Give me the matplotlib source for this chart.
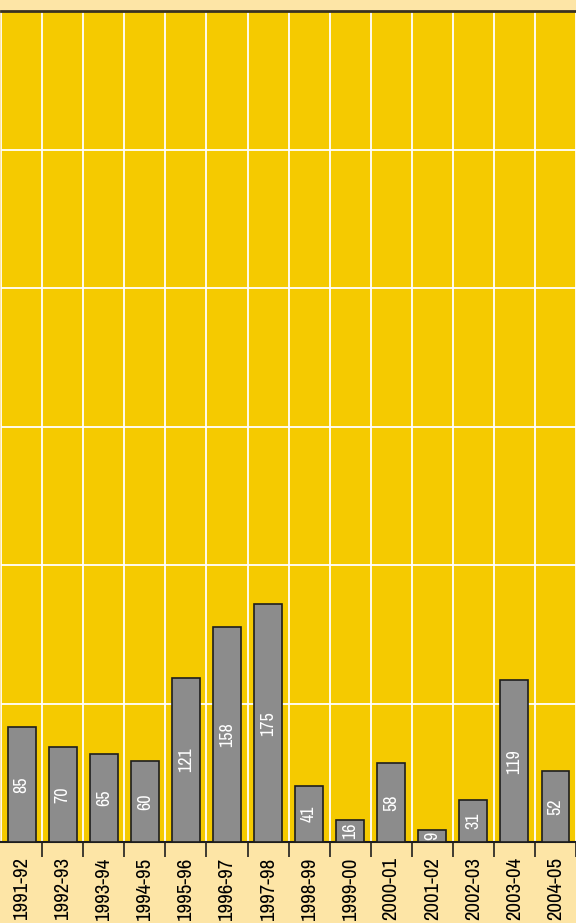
import matplotlib
matplotlib.use("Agg")
import matplotlib.pyplot as plt
from matplotlib import font_manager
import numpy as np

seasons = ["1991-92", "1992-93", "1993-94", "1994-95", "1995-96", "1996-97", "1997-98",
           "1998-99", "1999-00", "2000-01", "2001-02", "2002-03", "2003-04", "2004-05"]
values = [85, 70, 65, 60, 121, 158, 175, 41, 16, 58, 9, 31, 119, 52]

YELLOW = "#F5CA00"
PALE = "#FDE5A6"
BAR = "#8C8C8C"
EDGE = "#1E1E1E"

# pick a condensed/narrow face if one is installed
cond = None
for f in font_manager.fontManager.ttflist:
    n = f.name.lower()
    if ("narrow" in n or "condensed" in n) and "bold" not in f.style.lower():
        cond = f.name
        break
FONT = ([cond] if cond else []) + ["Roboto", "DejaVu Sans"]
label_size = 15 if cond else 12
value_size = 13 if cond else 11

fig = plt.figure(figsize=(5.76, 9.23), dpi=100, facecolor=PALE)
ax = fig.add_axes([0.002, (923 - 842) / 923, 0.998, (842 - 11) / 923])
ax.set_facecolor(YELLOW)

x = np.arange(len(seasons))
ymax = 612
ax.set_xlim(-0.5, len(seasons) - 0.5)
ax.set_ylim(0, ymax)

for b in np.arange(-0.5, len(seasons), 1.0):
    ax.axvline(b, color="white", lw=1.3, zorder=1)
for g in np.linspace(0, ymax, 7)[1:-1]:
    ax.axhline(g, color="white", lw=1.3, zorder=1)

ax.bar(x, values, width=0.68, color=BAR, edgecolor=EDGE, linewidth=1.2, zorder=3)
for xi, v in zip(x, values):
    ax.text(xi, v / 2, str(v), rotation=90, ha="center", va="center",
            color="white", fontsize=value_size, family=FONT, zorder=4)

ax.set_yticks([])
ax.set_xticks(x)
ax.set_xticklabels(seasons, rotation=90, family=FONT, fontsize=label_size, va="top", ha="center")
ax.tick_params(axis="x", which="major", length=0, pad=11, colors="black")
ax.set_xticks(np.arange(-0.5, len(seasons), 1.0)[1:], minor=True)
ax.tick_params(axis="x", which="minor", length=11, width=1.2, color=EDGE, direction="out")

for s in ["left", "right"]:
    ax.spines[s].set_visible(False)
ax.spines["top"].set_color("#3A3220")
ax.spines["top"].set_linewidth(2)
ax.spines["bottom"].set_color(EDGE)
ax.spines["bottom"].set_linewidth(1.5)

fig.savefig("out.png", dpi=100, facecolor=PALE)
